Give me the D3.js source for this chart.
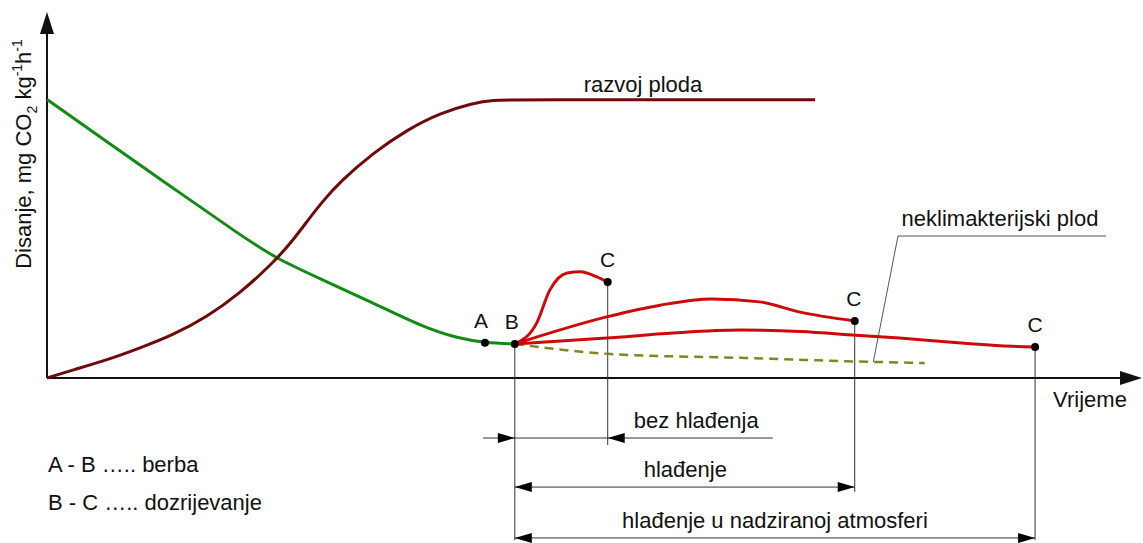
<!DOCTYPE html>
<html>
<head>
<meta charset="utf-8">
<script src="https://cdn.jsdelivr.net/npm/d3@7"></script>
<style>
  body { margin: 0; background: #fff; }
  text { font-family: "Liberation Sans", Arial, sans-serif; fill: #111; }
</style>
</head>
<body>
<div id="chart"></div>
<script>
// schematic values, time 0-100, respiration 0-100
const greenCurve = [[0,76.1],[5.49,64.5],[11.53,51.9],[17.66,39.1],[21.04,32.5],[25.25,26.8],[29.83,20.5],[34.4,13.9],[37.5,10.9],[40.07,9.6],[42.8,9.3]];
const growthCurve = [[0,0],[2.38,2.19],[5.49,4.92],[8.51,8.2],[11.53,11.75],[14.64,16.67],[17.66,23.2],[20.68,31.4],[22.5,37.6],[23.79,42.8],[25.25,48.4],[26.81,53.6],[29.83,61.5],[32.94,67.8],[35.96,72.4],[38.98,75.1],[40.8,76.0],[43.0,76.0],[68.0,76.0],[70.27,76.0]];
const nonClimacteric = [[42.8,9.3],[51.3,6.6],[63.4,5.5],[75.6,4.4],[80.3,4.1]];
const ripeNoCool = [[42.8,9.3],[44.8,15.0],[46.0,24.0],[47.6,28.7],[48.8,29.0],[50.3,27.6],[51.3,26.2]];
const ripeCool = [[42.8,9.3],[51.2,16.7],[56.1,19.9],[60.8,21.6],[65.2,20.8],[68.9,18.0],[73.9,15.6]];
const ripeCA = [[42.8,9.3],[51.2,10.9],[57.3,12.3],[63.4,13.1],[68.9,12.7],[74.0,11.7],[78.0,10.9],[84.2,9.4],[87.2,8.8],[90.4,8.5]];

const points = [
  {name: "A", t: 40.07, v: 9.6, dx: -4},
  {name: "B", t: 42.8, v: 9.3, dx: -3},
  {name: "C", t: 51.3, v: 26.2, dx: 0},
  {name: "C", t: 73.9, v: 15.6, dx: -1},
  {name: "C", t: 90.4, v: 8.5, dx: 0}
];
// vertical drop lines: time, top value, bottom value
const dropLines = [[42.8, 9.3, -44.3], [51.3, 26.2, -18.3], [73.9, 15.6, -31.1], [90.4, 8.5, -44.3]];
// dimension lines
const dimensions = [
  {label: "bez hlađenja", from: 39.9, to: 66.4, v: -16.4, a1: 42.8, a2: 51.3, dir1: 1, dir2: -1, tx: 59.4},
  {label: "hlađenje", from: 42.8, to: 73.9, v: -29.8, a1: 42.8, a2: 73.9, dir1: -1, dir2: 1, tx: 58.4},
  {label: "hlađenje u nadziranoj atmosferi", from: 42.8, to: 90.4, v: -43.7, a1: 42.8, a2: 90.4, dir1: -1, dir2: 1, tx: 66.6}
];
const legendLines = ["A - B ….. berba", "B - C ….. dozrijevanje"];

const width = 1143, height = 543;
const svg = d3.select("#chart").append("svg")
  .attr("width", width).attr("height", height);

const x = d3.scaleLinear().domain([0, 100]).range([47, 1140]);
const y = d3.scaleLinear().domain([0, 100]).range([378, 12]);

const line = d3.line().x(d => x(d[0])).y(d => y(d[1])).curve(d3.curveMonotoneX);
const smooth = d3.line().x(d => x(d[0])).y(d => y(d[1])).curve(d3.curveBasis);

// axes
svg.append("line").attr("x1", x(0)).attr("y1", y(0)).attr("x2", x(0)).attr("y2", 30)
  .attr("stroke", "#111").attr("stroke-width", 2);
svg.append("path").attr("d", `M${x(0)},12 L${x(0)-7},34 L${x(0)+7},34 Z`).attr("fill", "#111");
svg.append("line").attr("x1", x(0)).attr("y1", y(0)).attr("x2", 1125).attr("y2", y(0))
  .attr("stroke", "#111").attr("stroke-width", 2);
svg.append("path").attr("d", `M1142,${y(0)} L1120,${y(0)-7} L1120,${y(0)+7} Z`).attr("fill", "#111");

// drop lines
svg.selectAll(".drop").data(dropLines).join("line")
  .attr("x1", d => x(d[0])).attr("x2", d => x(d[0]))
  .attr("y1", d => y(d[1])).attr("y2", d => y(d[2]))
  .attr("stroke", "#333").attr("stroke-width", 1);

// curves
svg.append("path").datum(nonClimacteric).attr("d", line)
  .attr("fill", "none").attr("stroke", "#858520").attr("stroke-width", 2.5).attr("stroke-dasharray", "9,6");
svg.append("path").datum(greenCurve).attr("d", smooth)
  .attr("fill", "none").attr("stroke", "#138a13").attr("stroke-width", 3);
svg.append("path").datum(growthCurve).attr("d", smooth)
  .attr("fill", "none").attr("stroke", "#6e0a0a").attr("stroke-width", 3);
[ripeNoCool, ripeCool, ripeCA].forEach(c => {
  svg.append("path").datum(c).attr("d", line)
    .attr("fill", "none").attr("stroke", "#cc0a0a").attr("stroke-width", 3);
});

// points + labels
svg.selectAll(".pt").data(points).join("circle")
  .attr("cx", d => x(d.t)).attr("cy", d => y(d.v)).attr("r", 4).attr("fill", "#000");
svg.selectAll(".ptl").data(points).join("text")
  .attr("x", d => x(d.t) + d.dx).attr("y", d => y(d.v) - 15)
  .attr("text-anchor", "middle").attr("font-size", 21).text(d => d.name);

// dimension lines
function arrowHead(tipX, yy, dir) {
  // dir = 1: points right, -1: points left
  const bx = tipX - dir * 17;
  return `M${tipX},${yy} L${bx},${yy-5} L${bx},${yy+5} Z`;
}
dimensions.forEach(d => {
  const yy = y(d.v);
  svg.append("line").attr("x1", x(d.from)).attr("x2", x(d.to)).attr("y1", yy).attr("y2", yy)
    .attr("stroke", "#333").attr("stroke-width", 1);
  svg.append("path").attr("d", arrowHead(x(d.a1), yy, d.dir1)).attr("fill", "#000");
  svg.append("path").attr("d", arrowHead(x(d.a2), yy, d.dir2)).attr("fill", "#000");
  svg.append("text").attr("x", x(d.tx)).attr("y", yy - 10)
    .attr("text-anchor", "middle").attr("font-size", 22).text(d.label);
});

// leader for non-climacteric label
svg.append("path")
  .attr("d", `M1106,236 L898,236 L${x(75.6)},${y(4.4)}`)
  .attr("fill", "none").attr("stroke", "#555").attr("stroke-width", 1);
svg.append("text").attr("x", 1000).attr("y", 226).attr("text-anchor", "middle")
  .attr("font-size", 22).text("neklimakterijski plod");

svg.append("text").attr("x", 643).attr("y", 92).attr("text-anchor", "middle")
  .attr("font-size", 22).text("razvoj ploda");
svg.append("text").attr("x", 1090).attr("y", 407).attr("text-anchor", "middle")
  .attr("font-size", 22).text("Vrijeme");

// legend
svg.selectAll(".leg").data(legendLines).join("text")
  .attr("x", 48).attr("y", (d, i) => 472 + i * 38)
  .attr("font-size", 22).text(d => d);

// y axis title
const yt = svg.append("text")
  .attr("transform", "translate(31,154) rotate(-90)")
  .attr("text-anchor", "middle").attr("font-size", 22);
yt.append("tspan").text("Disanje, mg CO");
yt.append("tspan").attr("font-size", 14).attr("dy", 6).text("2");
yt.append("tspan").attr("dy", -6).text(" kg");
yt.append("tspan").attr("font-size", 14).attr("dy", -9).text("-1");
yt.append("tspan").attr("dy", 9).text("h");
yt.append("tspan").attr("font-size", 14).attr("dy", -9).text("-1");
</script>
</body>
</html>
